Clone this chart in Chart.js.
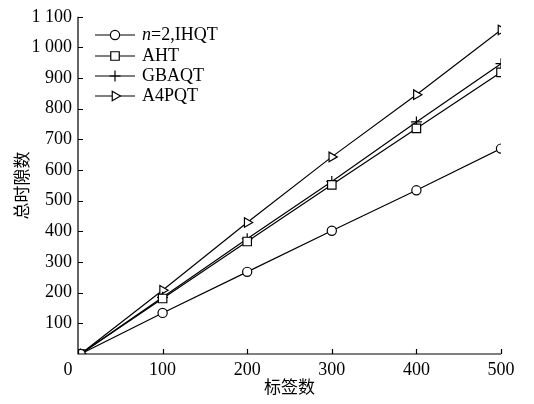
<!DOCTYPE html>
<html><head><meta charset="utf-8">
<script src="https://cdn.jsdelivr.net/npm/chart.js@4/dist/chart.umd.min.js"></script>
<style>html,body{margin:0;padding:0;background:#fff}#wrap{width:534px;height:404px}</style>
</head><body><div id="wrap"><canvas id="c" width="534" height="404"></canvas></div>
<script>
const tagCounts = [3, 100, 200, 300, 400, 500];
const ihqt  = [0, 134, 268, 402, 534, 670];
const aht   = [0, 181, 367, 552, 736, 919];
const gbaqt = [0, 185, 376, 563, 757, 947];
const a4pqt = [0, 208, 429, 643, 846, 1057];
const seriesNames = ['n=2,IHQT', 'AHT', 'GBAQT', 'A4PQT'];
const xTicks = [0, 100, 200, 300, 400, 500];
const yTicks = [100, 200, 300, 400, 500, 600, 700, 800, 900, 1000, 1100];

const serif = "'Liberation Serif','DejaVu Serif',serif";
const cjk = "'Noto Sans CJK SC',sans-serif";

function mk(vals) { return tagCounts.map((x, i) => ({x: x, y: vals[i]})); }
const styles = [
  {pointStyle: 'circle', radius: 4.6, rotation: 0},
  {pointStyle: 'rect', radius: 6, rotation: 0},
  {pointStyle: 'cross', radius: 5.5, rotation: 0},
  {pointStyle: 'triangle', radius: 5.5, rotation: 90}
];
const allVals = [ihqt, aht, gbaqt, a4pqt];
const datasets = allVals.map((v, i) => ({
  label: seriesNames[i],
  data: mk(v),
  borderColor: '#000',
  borderWidth: 1.2,
  backgroundColor: '#fff',
  pointStyle: styles[i].pointStyle,
  pointRadius: styles[i].radius,
  pointRotation: styles[i].rotation,
  pointBorderColor: '#000',
  pointBackgroundColor: '#fff',
  pointBorderWidth: 1.2,
  tension: 0
}));

const fmt = v => {
  const s = String(v);
  return s.length > 3 ? s.slice(0, s.length - 3) + ' ' + s.slice(-3) : s;
};

const tickPlugin = {
  id: 'innerTicks',
  afterDraw(chart) {
    const ctx = chart.ctx, a = chart.chartArea;
    const xs = chart.scales.x, ys = chart.scales.y;
    ctx.save();
    ctx.strokeStyle = '#000'; ctx.lineWidth = 1.2;
    ctx.beginPath();
    ctx.moveTo(a.left, a.top); ctx.lineTo(a.left, a.bottom); ctx.lineTo(a.right, a.bottom);
    xTicks.forEach(t => { const px = Math.round(xs.getPixelForValue(t)) + 0.5; ctx.moveTo(px, a.bottom); ctx.lineTo(px, a.bottom - 5); });
    yTicks.forEach(t => { const py = Math.round(ys.getPixelForValue(t)) + 0.5; ctx.moveTo(a.left, py); ctx.lineTo(a.left + 5, py); });
    ctx.stroke();
    // origin label
    ctx.fillStyle = '#000';
    ctx.font = '18px ' + serif;
    ctx.textAlign = 'center'; ctx.textBaseline = 'middle';
    ctx.fillText('0', xs.getPixelForValue(0) - 10, a.bottom + 16);
    // legend
    const x0 = 95, x1 = 135, tx = 142, rows = [35, 56, 76, 96];
    chart.data.datasets.forEach((ds, i) => {
      const y = rows[i];
      ctx.strokeStyle = '#000'; ctx.lineWidth = 1.2;
      ctx.beginPath(); ctx.moveTo(x0, y); ctx.lineTo(x1, y); ctx.stroke();
      ctx.fillStyle = '#fff';
      Chart.helpers.drawPoint(ctx, {pointStyle: ds.pointStyle, rotation: ds.pointRotation, radius: ds.pointRadius, borderWidth: 1.2}, (x0 + x1) / 2, y);
      ctx.fillStyle = '#000';
      ctx.textBaseline = 'middle'; ctx.textAlign = 'left';
      if (i === 0) {
        ctx.font = 'italic 18px ' + serif;
        ctx.fillText('n', tx, y);
        const w = ctx.measureText('n').width;
        ctx.font = '18px ' + serif;
        ctx.fillText(ds.label.slice(1), tx + w, y);
      } else {
        ctx.font = '18px ' + serif;
        ctx.fillText(ds.label, tx, y);
      }
    });
    ctx.restore();
  }
};

new Chart(document.getElementById('c'), {
  type: 'line',
  data: {datasets},
  options: {
    responsive: false,
    animation: false,
    devicePixelRatio: 1,
    layout: {padding: {top: 15, right: 33, left: 0, bottom: 0}},
    plugins: {legend: {display: false}, tooltip: {enabled: false}},
    scales: {
      x: {
        type: 'linear', min: 0, max: 500,
        afterFit: s => { s.height = 50; },
        afterBuildTicks: s => { s.ticks = xTicks.map(v => ({value: v})); },
        grid: {display: false, drawTicks: false},
        border: {display: false},
        ticks: {color: '#000', font: {family: serif, size: 18}, padding: 5, maxRotation: 0, callback: v => v === 0 ? '' : fmt(v)},
        title: {display: true, text: '标签数', color: '#000', font: {family: cjk, size: 17}, padding: {top: 0, bottom: 7}}
      },
      y: {
        type: 'linear', min: 0, max: 1100,
        afterFit: s => { s.width = 78; },
        afterBuildTicks: s => { s.ticks = yTicks.map(v => ({value: v})); },
        grid: {display: false, drawTicks: false},
        border: {display: false},
        ticks: {color: '#000', font: {family: serif, size: 18}, padding: 6, callback: v => fmt(v)},
        title: {display: true, text: '总时隙数', color: '#000', font: {family: cjk, size: 17}, padding: {top: 11, bottom: 0}}
      }
    }
  },
  plugins: [tickPlugin]
});
</script>
</body></html>
